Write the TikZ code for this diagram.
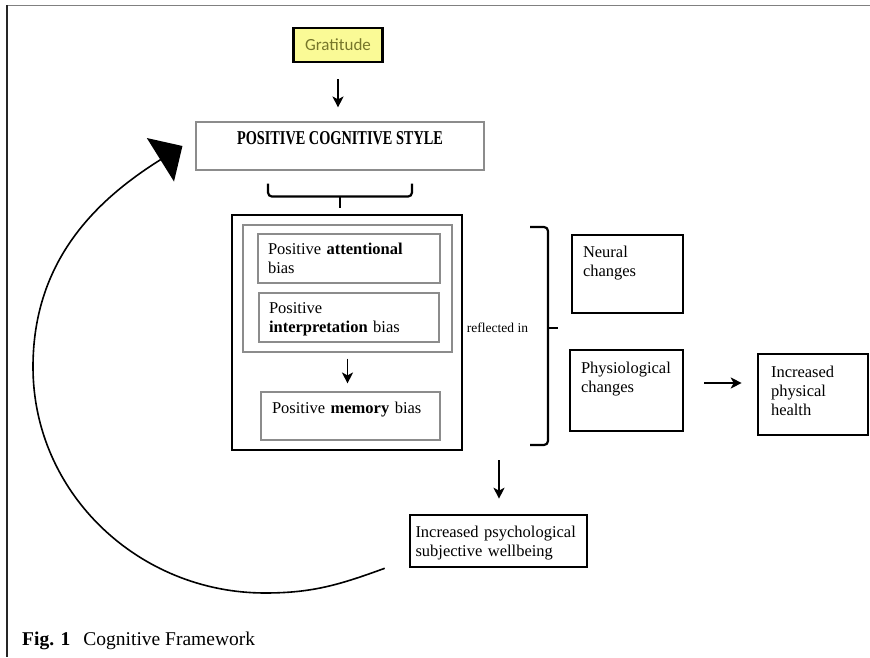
\documentclass[tikz,border=0pt]{standalone}
\usepackage{fontspec}
\setmainfont{Liberation Serif}
\newfontfamily\calibri{Carlito}
\usepackage{graphicx}
\usetikzlibrary{arrows.meta,positioning}

\definecolor{gratfill}{HTML}{FAFA96}
\definecolor{grattext}{HTML}{76762A}

\begin{document}
\begin{tikzpicture}[x=1pt, y=1pt,
    heavy/.style={draw, line width=2.6pt},
    pale/.style={draw=black!45, line width=1.1pt},
    cell/.style={align=left, inner ysep=0pt, font=\fontsize{16.5}{19}\selectfont},
    arr/.style={-{Stealth[length=11pt,width=11pt,inset=3pt]}, line width=1.8pt},
    brk/.style={line width=2.2pt, rounded corners=4pt},
    feedback/.style={line width=1.6pt, -{Triangle[length=26pt,width=51pt]}}
]
\useasboundingbox (0,0) rectangle (870,657);

% frame
\draw[black!50, line width=1.6pt] (7,651.5) -- (870,651.5);
\draw[black!85, line width=1.2pt] (7,651.5) -- (7,0);

\node[heavy, fill=gratfill, minimum width=89pt, minimum height=34pt,
      font=\calibri\fontsize{17}{19}\selectfont, text=grattext] (grat) at (338,612) {Gratitude};
\node[pale, minimum width=288pt, minimum height=48pt, text depth=15pt,
      font=\bfseries\fontsize{19.6}{22}\selectfont] (pcs) at (340,511) {\scalebox{0.73}[1]{POSITIVE COGNITIVE STYLE}};

\node[heavy, line width=2.8pt, minimum width=230pt, minimum height=235pt] (big) at (347,324.5) {};
\node[pale, minimum width=209pt, minimum height=127pt] (group) at (347.5,368.5) {};
\node[pale, cell, text width=162pt, inner xsep=10pt, text height=21pt, text depth=28pt] (att) at (349,398.5)
    {Positive \textbf{attentional}\\bias};
\node[pale, cell, text width=160pt, inner xsep=10pt, text height=20pt, text depth=29pt] (interp) at (349,339.5)
    {Positive\\\textbf{interpretation} bias};
\node[pale, cell, text width=157pt, inner xsep=11pt, text height=21pt, text depth=27pt] (mem) at (350.5,241)
    {Positive \textbf{memory} bias};

\node[font=\fontsize{13.5}{16}\selectfont] (refl) at (497.5,329) {reflected in};

\node[heavy, cell, text width=89pt, inner xsep=11pt, text height=23pt, text depth=55pt] (neural) at (627.5,383)
    {Neural\\changes};
\node[heavy, cell, text width=91pt, inner xsep=11pt, text height=23pt, text depth=58pt] (phys) at (626.5,266.5)
    {Physiological\\changes};
\node[heavy, cell, text width=84pt, inner xsep=13pt, text height=23pt, text depth=58pt] (health) at (813,262.5)
    {Increased\\physical\\health};
\node[heavy, cell, text width=166pt, inner xsep=5.5pt, text height=22pt, text depth=30pt] (psych) at (498.5,116)
    {Increased psychological\\subjective wellbeing};

\coordinate (wb) at (499,197);

\node[anchor=base west, inner sep=0pt, font=\fontsize{19.5}{22}\selectfont] (caption) at (22,12)
    {\textbf{Fig. 1}\hspace{13pt}Cognitive Framework};

% arrows
\draw[arr, shorten <=16pt, shorten >=14pt] (grat.south) -- (grat.south |- pcs.north);
\draw[arr, shorten <=6pt, shorten >=8pt] (group.south) -- (group.south |- mem.north);
\draw[arr, shorten <=20pt, shorten >=15pt] ([yshift=7.5pt]phys.east) -- ([yshift=7.5pt]phys.east -| health.west);
\draw[arr, shorten >=15pt] (wb) -- (wb |- psych.north);

% braces
\draw[brk] ([xshift=-72pt,yshift=-13pt]pcs.south) |- ([yshift=-26pt]pcs.south) -| ([xshift=72pt,yshift=-13pt]pcs.south);
\draw[line width=2.2pt] ([yshift=-26pt]pcs.south) -- ([yshift=-37pt]pcs.south);
\draw[brk] (530,430) -| (548,212) -- (530,212);
\draw[line width=2.2pt] (548,329) -- (558,329);

% feedback loop
\draw[feedback] ([xshift=-24pt]psych.south west) to[out=200,in=0] (265,64)
    to[out=180,in=-90] (33,290) to[out=90,in=212] ([xshift=-13pt]pcs.west);
\end{tikzpicture}
\end{document}
